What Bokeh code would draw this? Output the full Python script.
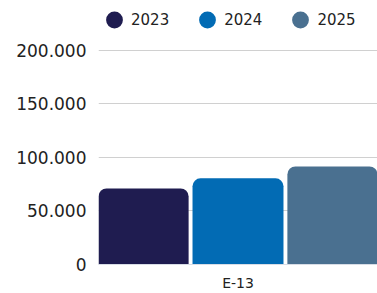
from bokeh.plotting import figure
from bokeh.models import ColumnDataSource, FactorRange, Range1d, FixedTicker, CustomJSTickFormatter, Legend, LegendItem
from bokeh.transform import dodge
from bokeh.embed import file_html
from bokeh.resources import INLINE

categories = ["E-13"]
years = ["2023", "2024", "2025"]
values_2023 = [71000]
values_2024 = [80500]
values_2025 = [91500]
colors = ["#1f1c50", "#026bb4", "#4a7090"]
y_ticks = [0, 50000, 100000, 150000, 200000]

FONT = "DejaVu Sans"

src = ColumnDataSource(dict(cat=categories, y2023=values_2023, y2024=values_2024, y2025=values_2025))

p = figure(width=377, height=293, x_range=FactorRange(*categories, range_padding=0),
           y_range=Range1d(0, 246500), output_backend="svg", toolbar_location=None,
           min_border_left=98, min_border_right=0, min_border_top=0, min_border_bottom=0)
p.outline_line_color = None
p.background_fill_color = "white"
p.border_fill_color = "white"

offsets = [-0.34, 0.0, 0.34]
cols = ["y2023", "y2024", "y2025"]
for off, col, c in zip(offsets, cols, colors):
    p.vbar(x=dodge("cat", off, range=p.x_range), top=col, width=0.326, source=src,
           fill_color=c, line_color=None, border_radius=(8, 8, 0, 0))

legend_items = []
for yr, c in zip(years, colors):
    d = p.scatter(x=categories, y=[float("nan")], marker="circle", size=12,
                  fill_color=c, line_color=c, line_width=4)
    legend_items.append(LegendItem(label=yr, renderers=[d]))

legend = Legend(items=legend_items, orientation="horizontal", location="top_left",
                label_text_font=FONT, label_text_font_size="15px", label_text_color="#222222",
                glyph_width=32, glyph_height=39, spacing=22, label_standoff=1,
                border_line_color=None, background_fill_alpha=0, margin=0, padding=2)
p.add_layout(legend)

p.yaxis.ticker = FixedTicker(ticks=y_ticks)
p.yaxis.formatter = CustomJSTickFormatter(code="return Math.round(tick).toString().replace(/\\B(?=(\\d{3})+(?!\\d))/g, '.');")
p.yaxis.axis_line_color = None
p.yaxis.major_tick_line_color = None
p.yaxis.major_tick_out = 0
p.yaxis.minor_tick_line_color = None
p.yaxis.major_label_text_font = FONT
p.yaxis.major_label_text_font_size = "17px"
p.yaxis.major_label_text_color = "#222222"
p.yaxis.major_label_standoff = 12

p.xaxis.axis_line_color = "#d8dde6"
p.xaxis.major_tick_line_color = None
p.xaxis.major_tick_out = 0
p.xaxis.minor_tick_line_color = None
p.xaxis.major_label_text_font = FONT
p.xaxis.major_label_text_font_size = "14px"
p.xaxis.major_label_text_color = "#222222"
p.xaxis.major_label_standoff = 10

p.xgrid.grid_line_color = None
p.ygrid.grid_line_color = "#d0d0d0"
p.ygrid.ticker = FixedTicker(ticks=y_ticks)

open("out.html", "w").write(file_html(p, INLINE))
